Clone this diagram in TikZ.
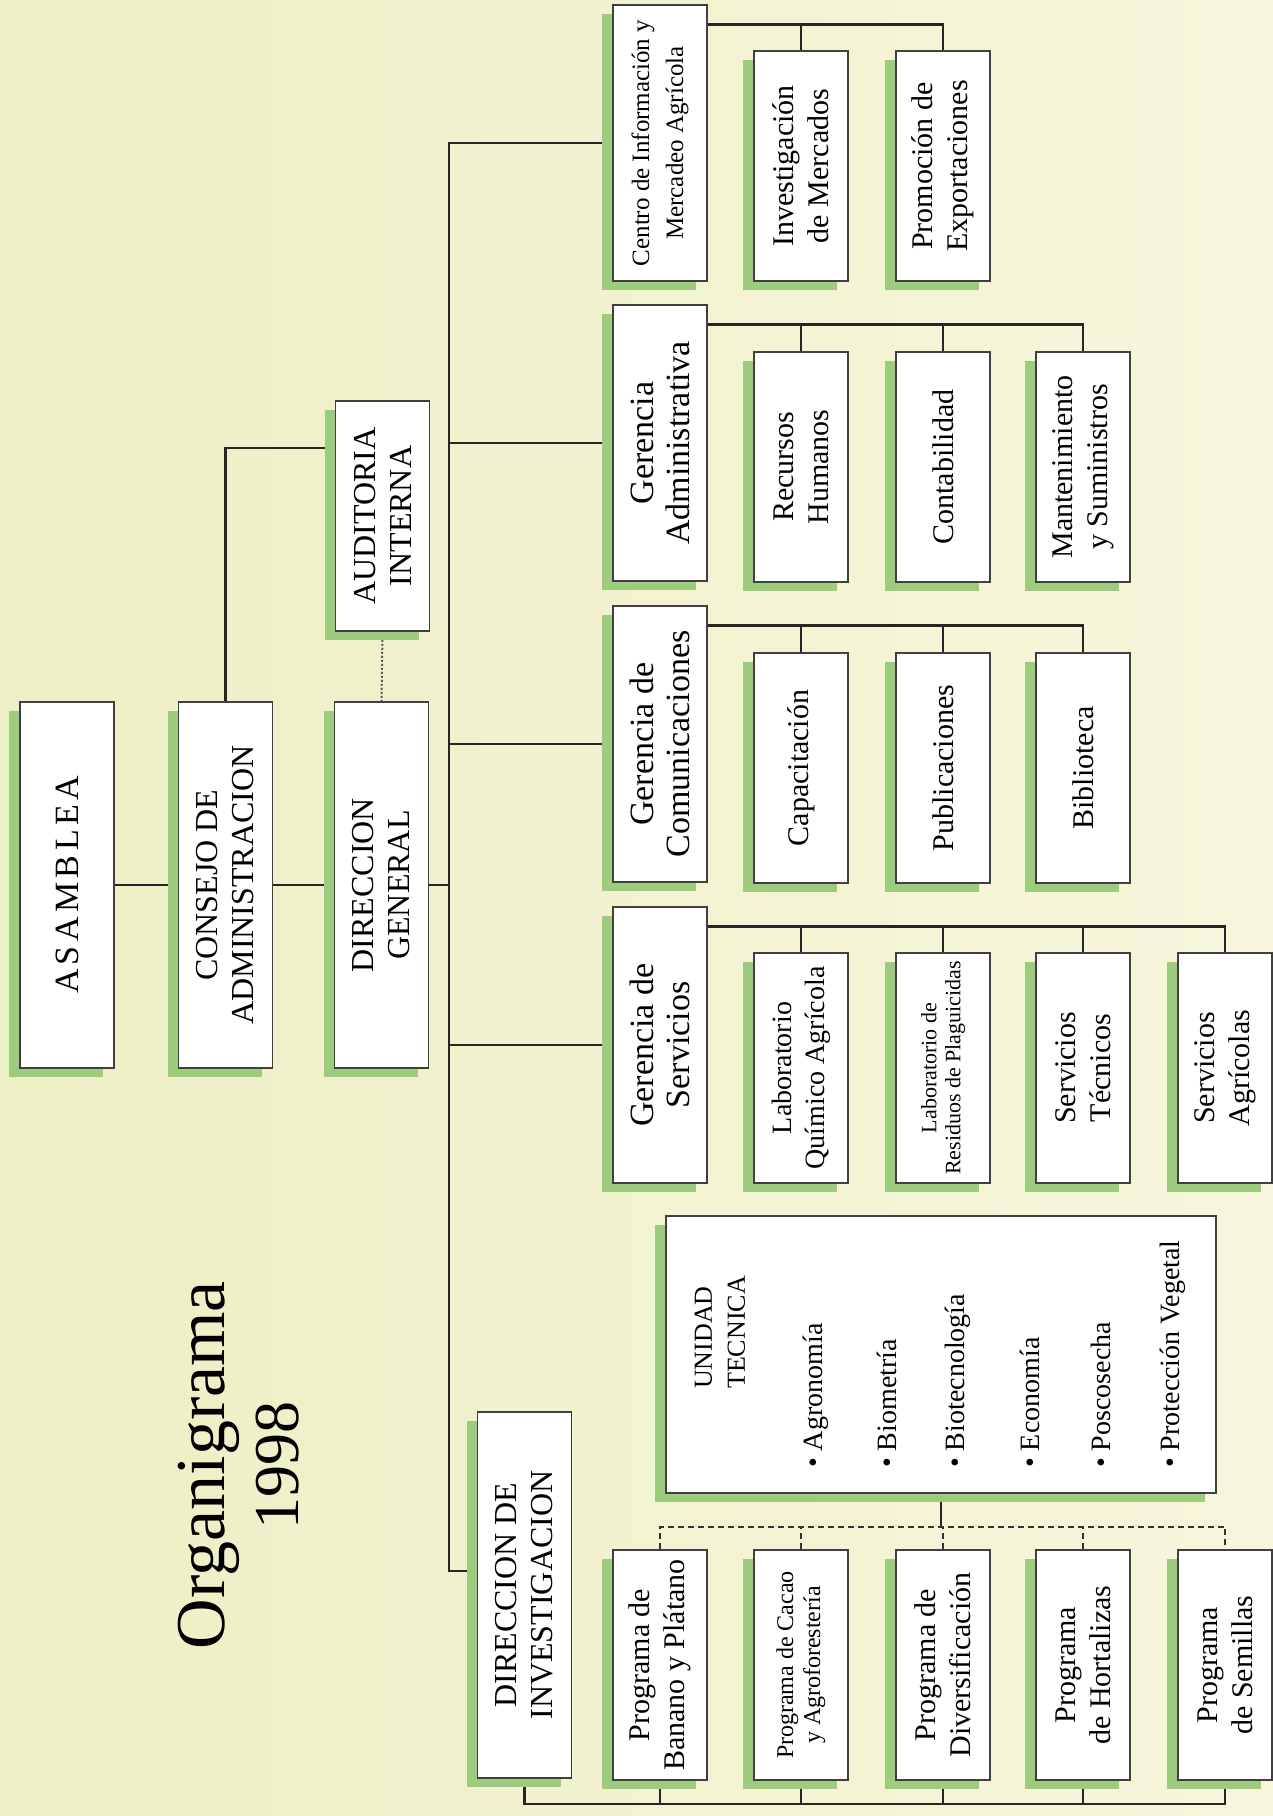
\documentclass[tikz,border=0pt]{standalone}
\usepackage{fontspec}
\setmainfont{Liberation Serif}
\usetikzlibrary{shadows,backgrounds}
\pgfdeclarelayer{wires}
\pgfsetlayers{background,wires,main}

\definecolor{paperleft}{RGB}{237,239,196}
\definecolor{paperright}{RGB}{247,246,221}
\definecolor{leafgreen}{RGB}{158,204,126}

\tikzset{
  orgbox/.style={draw=black!75, line width=1.5pt, fill=white, rotate=90,
    align=center, inner sep=2pt, minimum height=94pt,
    drop shadow={shadow xshift=-11pt, shadow yshift=-9pt, fill=leafgreen, opacity=1}},
  topbox/.style={orgbox, minimum width=366pt, font=\fontsize{32}{36}\selectfont},
  gerbox/.style={orgbox, minimum width=276pt, font=\fontsize{34}{36}\selectfont},
  subbox/.style={orgbox, minimum width=230pt, font=\fontsize{30}{35}\selectfont},
  utitem/.style={rotate=90, anchor=west, inner sep=0pt, font=\fontsize{28}{30}\selectfont},
  wire/.style={line width=2.6pt, black!85},
  dotwire/.style={line width=2pt, black!65, dash pattern=on 2pt off 2pt},
  dashwire/.style={line width=2pt, black!80, dash pattern=on 6pt off 4pt}
}

\begin{document}
\begin{tikzpicture}[x=1pt, y=-1pt,
    show background rectangle, inner frame sep=0pt,
    background rectangle/.style={left color=paperleft, right color=paperright}]
  \useasboundingbox (0,0) rectangle (1273,1816);

  % title
  \node[rotate=90, align=center, font=\fontsize{70}{74}\selectfont] (title) at (239,1465)
    {Organigrama\\{\fontsize{64}{74}\selectfont 1998}};

  % upper chain
  \node[topbox, font=\fontsize{34}{36}\selectfont] (asam) at (67,885) {\addfontfeatures{LetterSpace=13}ASAMBLEA};
  \node[topbox] (cons) at (225.5,885) {CONSEJO DE\\ADMINISTRACION};
  \node[topbox] (dirgen) at (381.5,885) {DIRECCION\\GENERAL};
  \node[topbox, minimum width=230pt] (audit) at (382.5,516) {AUDITORIA\\INTERNA};
  \node[topbox] (dirinv) at (524.5,1595) {DIRECCION DE\\INVESTIGACION};

  % gerencias
  \node[gerbox, font=\fontsize{25}{34}\selectfont] (centro) at (660,143) {Centro de Información y\\Mercadeo Agrícola};
  \node[gerbox] (geradm) at (660,443) {Gerencia\\Administrativa};
  \node[gerbox] (gercom) at (660,744) {Gerencia de\\Comunicaciones};
  \node[gerbox] (gerserv) at (660,1045) {Gerencia de\\Servicios};

  % departments
  \node[subbox] (invmer) at (801,166) {Investigación\\de Mercados};
  \node[subbox] (promexp) at (943,166) {Promoción de\\Exportaciones};
  \node[subbox] (rrhh) at (801,467) {Recursos\\Humanos};
  \node[subbox] (contab) at (943,467) {Contabilidad};
  \node[subbox] (mantsum) at (1083,467) {Mantenimiento\\y Suministros};
  \node[subbox] (capac) at (801,768) {Capacitación};
  \node[subbox] (public) at (943,768) {Publicaciones};
  \node[subbox] (biblio) at (1083,768) {Biblioteca};
  \node[subbox, font=\fontsize{28}{33}\selectfont] (labquim) at (801,1068) {Laboratorio\\Químico Agrícola};
  \node[subbox, font=\fontsize{22}{24}\selectfont] (labres) at (943,1068) {Laboratorio de\\Residuos de Plaguicidas};
  \node[subbox] (servtec) at (1083,1068) {Servicios\\Técnicos};
  \node[subbox] (servagr) at (1225,1068) {Servicios\\Agrícolas};

  % unidad tecnica
  \node[orgbox, minimum width=277pt, minimum height=550pt] (ut) at (941,1354.5) {};
  \node[utitem, align=left, font=\fontsize{26}{33}\selectfont] (uthead) at (720,1389) {UNIDAD\\TECNICA};
  \node[utitem] (ut1) at (816,1468) {\textbullet\ Agronomía};
  \node[utitem] (ut2) at (887,1468) {\textbullet\ Biometría};
  \node[utitem] (ut3) at (958,1468) {\textbullet\ Biotecnología};
  \node[utitem] (ut4) at (1030,1468) {\textbullet\ Economía};
  \node[utitem] (ut5) at (1101,1468) {\textbullet\ Poscosecha};
  \node[utitem] (ut6) at (1173,1468) {\textbullet\ Protección Vegetal};

  % programas
  \node[subbox] (banano) at (660,1665) {Programa de\\Banano y Plátano};
  \node[subbox, font=\fontsize{24}{27}\selectfont] (cacao) at (801,1665) {Programa de Cacao\\y Agroforestería};
  \node[subbox] (divers) at (943,1665) {Programa de\\Diversificación};
  \node[subbox] (hortal) at (1083,1665) {Programa\\de Hortalizas};
  \node[subbox] (semill) at (1225,1665) {Programa\\de Semillas};

  \coordinate (spine) at (449,1571);
  \coordinate (bus) at (0,1804);

  \begin{pgfonlayer}{wires}
    % chain of command
    \draw[wire] (asam.south) -- (cons.north);
    \draw[wire] (cons.south) -- (dirgen.north);
    \draw[wire] (cons.east) |- ([yshift=68pt]audit.north);
    \draw[dotwire] (audit.west) -- (dirgen.east);
    % spine
    \draw[wire] (dirgen.south) -- (dirgen.south -| spine);
    \draw[wire] (centro.north) -| (spine) -- (spine -| dirinv.north);
    \draw[wire] (geradm.north) -- (geradm.north -| spine);
    \draw[wire] (gercom.north) -- (gercom.north -| spine);
    \draw[wire] (gerserv.north) -- (gerserv.north -| spine);
    % centro
    \draw[wire] ([yshift=-20pt]centro.south east) coordinate (rail1) -| (promexp.east);
    \draw[wire] (invmer.east) -- (invmer.east |- rail1);
    % gerencia administrativa
    \draw[wire] ([yshift=-20pt]geradm.south east) coordinate (rail2) -| (mantsum.east);
    \draw[wire] (rrhh.east) -- (rrhh.east |- rail2);
    \draw[wire] (contab.east) -- (contab.east |- rail2);
    % gerencia de comunicaciones
    \draw[wire] ([yshift=-20pt]gercom.south east) coordinate (rail3) -| (biblio.east);
    \draw[wire] (capac.east) -- (capac.east |- rail3);
    \draw[wire] (public.east) -- (public.east |- rail3);
    % gerencia de servicios
    \draw[wire] ([yshift=-20pt]gerserv.south east) coordinate (rail4) -| (servagr.east);
    \draw[wire] (labquim.east) -- (labquim.east |- rail4);
    \draw[wire] (labres.east) -- (labres.east |- rail4);
    \draw[wire] (servtec.east) -- (servtec.east |- rail4);
    % unidad tecnica to programas
    \draw[wire] (ut.west) -- ++(0,33) coordinate (utrail);
    \draw[dashwire] (banano.east) |- (utrail) -| (semill.east);
    \draw[dashwire] (cacao.east) -- (cacao.east |- utrail);
    \draw[dashwire] (divers.east) -- (divers.east |- utrail);
    \draw[dashwire] (hortal.east) -- (hortal.east |- utrail);
    % direccion de investigacion to programas
    \draw[wire] (dirinv.west) |- (bus -| semill.west) -- (semill.west);
    \draw[wire] (banano.west) -- (banano.west |- bus);
    \draw[wire] (cacao.west) -- (cacao.west |- bus);
    \draw[wire] (divers.west) -- (divers.west |- bus);
    \draw[wire] (hortal.west) -- (hortal.west |- bus);
  \end{pgfonlayer}
\end{tikzpicture}
\end{document}
